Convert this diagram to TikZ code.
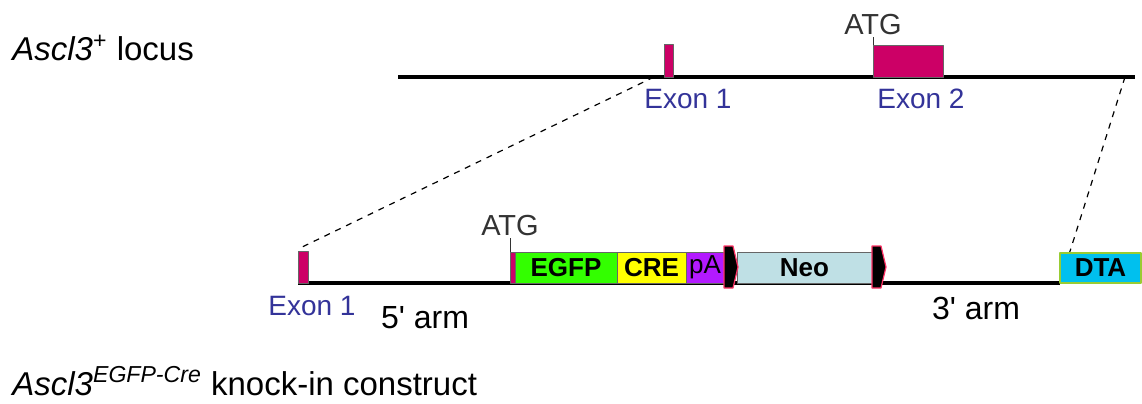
\documentclass[tikz,border=0pt]{standalone}
\usepackage{fontspec}
\setmainfont{Liberation Sans}
\newfontfamily\armfont{Liberation Sans}[Ligatures=TeXOff]
\usetikzlibrary{positioning}
\definecolor{exonred}{HTML}{CC0066}
\definecolor{exonblue}{HTML}{333399}
\definecolor{egfpgreen}{HTML}{33FF00}
\definecolor{creyellow}{HTML}{FFFF00}
\definecolor{papurple}{HTML}{B31AFF}
\definecolor{neoblue}{HTML}{BFE0E5}
\definecolor{dtacyan}{HTML}{00C0EE}
\definecolor{dtaborder}{HTML}{99CC33}
\definecolor{loxpink}{HTML}{FF3366}
\begin{document}
\begin{tikzpicture}[x=0.5pt,y=-0.5pt,line join=round,
  dna/.style={line width=2pt},
  exon/.style={draw=black!60,fill=exonred,line width=0.4pt,inner sep=0,outer sep=0,anchor=south west},
  cassette/.style={draw=black!60,line width=0.5pt,inner sep=0,outer sep=0,minimum height=15.5pt,font=\fontsize{13}{15}\selectfont\bfseries},
  lox/.style={fill=black,draw=loxpink,line width=0.6pt},
  exonlabel/.style={text=exonblue,font=\fontsize{14}{16}\selectfont},
  atg/.style={text=black!80,font=\fontsize{14.5}{16}\selectfont,inner sep=1pt},
  armlabel/.style={font=\armfont\fontsize{16}{18}\selectfont},
  title/.style={font=\fontsize{16.5}{20}\selectfont,inner sep=0,anchor=west}]
        \useasboundingbox (0,0) rectangle (1142,403);
        % Ascl3+ locus
        \node[title] (wttitle) at (12,48) {\textit{Ascl3}\textsuperscript{+} locus};
        \draw[dna] (398,77) -- (1135,77);
        \coordinate (wtend) at (1125,77);
        \node[exon,minimum width=4.5pt,minimum height=16.5pt] (wtex1) at (664,77) {};
        \node[exon,minimum width=35pt,minimum height=16pt] (wtex2) at (873,77) {};
        \draw[black!80,line width=0.5pt] (wtex2.north west) -- ++(0,-8) node[atg,above] (wtatg) {ATG};
        \node[exonlabel] (wtex1lab) at (688,99) {Exon 1};
        \node[exonlabel] (wtex2lab) at (921,99) {Exon 2};
        % knock-in construct
        \draw[dna] (298,283) -- (1060,283);
        \node[exon,minimum width=5pt,minimum height=16pt] (koex1) at (298,283) {};
        \node[exon,minimum width=2.5pt,minimum height=15.5pt] (koatg) at (510,283) {};
        \draw[black!80,line width=0.5pt] (koatg.north west) -- ++(0,-14) node[atg,above] (koatglab) {ATG};
        \node[cassette,fill=egfpgreen,minimum width=51pt,right=0pt of koatg] (egfp) {EGFP};
        \node[cassette,fill=creyellow,minimum width=34.5pt,right=0pt of egfp] (cre) {CRE};
        \node[cassette,fill=papurple,minimum width=19pt,right=0pt of cre,font=\fontsize{13}{15}\selectfont] (pa) {pA};
        \node[cassette,fill=neoblue,minimum width=67.5pt,anchor=south west] (neo) at (737,283) {Neo};
        \foreach \x in {724,872}
        \filldraw[lox] (\x,246) -- ++(9,0) -- ++(5,21) -- ++(-5,21) -- ++(-9,0) -- cycle;
        % homology lines
        \draw[dashed,line width=0.6pt] ([xshift=-5pt]wtex1.south west) -- ([yshift=1pt]koex1.north west);
        \draw[dashed,line width=0.6pt] (wtend) -- (1060,283) coordinate (dtacorner);
        \node[cassette,fill=dtacyan,draw=dtaborder,line width=0.8pt,minimum width=40.5pt,minimum height=15pt,anchor=south west] (dta) at (dtacorner) {DTA};
        \node[exonlabel] (koex1lab) at (312,306) {Exon 1};
        \node[armlabel] (arm5) at (425,318) {5' arm};
        \node[armlabel] (arm3) at (976,308) {3' arm};
        \node[title] (kotitle) at (12,381) {\textit{Ascl3\textsuperscript{EGFP-Cre}} knock-in construct};
\end{tikzpicture}
\end{document}
